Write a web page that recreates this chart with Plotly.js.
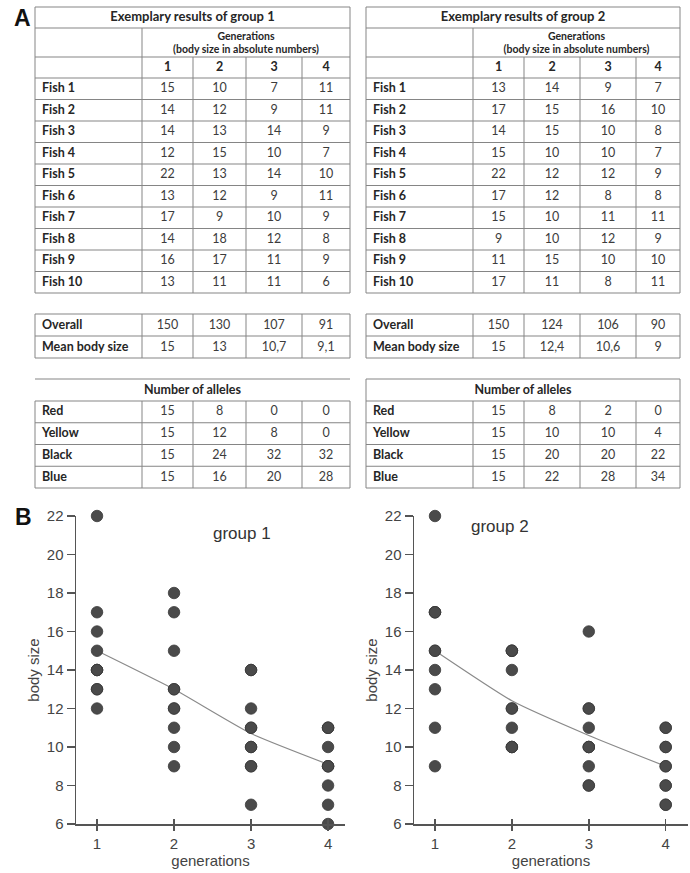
<!DOCTYPE html>
<html>
<head>
<meta charset="utf-8">
<script src="https://cdn.plot.ly/plotly-3.0.1.min.js"></script>
<style>html,body{margin:0;padding:0;background:#fff;}#chart{width:690px;height:873px;}</style>
</head>
<body>
<div id="chart"></div>
<script>
// ---------------- DATA ----------------
const generations = [1, 2, 3, 4];
const genHeaders = ['1', '2', '3', '4'];
const fishLabels = ['Fish 1', 'Fish 2', 'Fish 3', 'Fish 4', 'Fish 5', 'Fish 6', 'Fish 7', 'Fish 8', 'Fish 9', 'Fish 10'];

// group 1 body sizes per generation (one value per fish)
const g1Gen1 = [15, 14, 14, 12, 22, 13, 17, 14, 16, 13];
const g1Gen2 = [10, 12, 13, 15, 13, 12, 9, 18, 17, 11];
const g1Gen3 = [7, 9, 14, 10, 14, 9, 10, 12, 11, 11];
const g1Gen4 = [11, 11, 9, 7, 10, 11, 9, 8, 9, 6];
const g1Overall = ['150', '130', '107', '91'];
const g1Mean = ['15', '13', '10,7', '9,1'];

// group 2 body sizes per generation
const g2Gen1 = [13, 17, 14, 15, 22, 17, 15, 9, 11, 17];
const g2Gen2 = [14, 15, 15, 10, 12, 12, 10, 10, 15, 11];
const g2Gen3 = [9, 16, 10, 10, 12, 8, 11, 12, 10, 8];
const g2Gen4 = [7, 10, 8, 7, 9, 8, 11, 9, 10, 11];
const g2Overall = ['150', '124', '106', '90'];
const g2Mean = ['15', '12,4', '10,6', '9'];

// number of alleles
const alleleLabels = ['Red', 'Yellow', 'Black', 'Blue'];
const g1Red = [15, 8, 0, 0];
const g1Yellow = [15, 12, 8, 0];
const g1Black = [15, 24, 32, 32];
const g1Blue = [15, 16, 20, 28];
const g2Red = [15, 8, 2, 0];
const g2Yellow = [15, 10, 10, 4];
const g2Black = [15, 20, 20, 22];
const g2Blue = [15, 22, 28, 34];

const groupTitles = ['Exemplary results of group 1', 'Exemplary results of group 2'];
const genTitle = 'Generations<br>(body size in absolute numbers)';
const overallLabel = 'Overall';
const meanLabel = 'Mean body size';
const allelesTitle = 'Number of alleles';
const plotTitles = ['group 1', 'group 2'];

// ---------------- LAYOUT HELPERS ----------------
const W = 690, H = 873;
const fx = p => p / W;
const fy = p => 1 - p / H;
const bold = s => '<b>' + s + '</b>';
const LINE = '#858585';
const TXT = '#262626';
const NUM = '#3c3c3c';
const TFONT = 'Lato, "Open Sans", sans-serif';
const FS = 12.5;
const PADL = 7;

// table geometry (pixel grid of the hidden table axes)
const ROW = { titleTop: 7, genTop: 28, headTop: 57, fishTop: 78, fishH: 21.5,
  overallTop: 314, overallH: 22, allTitleTop: 379, allTop: 401, allH: 21.75 };

const groups = [
  { gens: [g1Gen1, g1Gen2, g1Gen3, g1Gen4], overall: g1Overall, mean: g1Mean,
    alleles: [g1Red, g1Yellow, g1Black, g1Blue], edges: [35, 142, 193, 246, 302, 350], allelesBox: false },
  { gens: [g2Gen1, g2Gen2, g2Gen3, g2Gen4], overall: g2Overall, mean: g2Mean,
    alleles: [g2Red, g2Yellow, g2Black, g2Blue], edges: [366, 473, 524, 580, 636, 680], allelesBox: true }
];

const traces = [];
const shapes = [];
const TX = 'x5', TY = 'y5';
function hline(x0, x1, y) { shapes.push({ type: 'line', xref: TX, yref: TY, x0: x0, x1: x1, y0: y, y1: y, line: { color: LINE, width: 1 } }); }
function vline(x, y0, y1) { shapes.push({ type: 'line', xref: TX, yref: TY, x0: x, x1: x, y0: y0, y1: y1, line: { color: LINE, width: 1 } }); }
function textTrace(xs, ys, texts, pos, size, color) {
  traces.push({ type: 'scatter', mode: 'text', x: xs, y: ys, text: texts, xaxis: TX, yaxis: TY,
    textposition: pos, cliponaxis: false, hoverinfo: 'skip',
    textfont: { family: TFONT, size: size, color: color } });
}

groups.forEach((g, gi) => {
  const e = g.edges, L = e[0], R = e[5];
  const centers = generations.map((_, k) => (e[k + 1] + e[k + 2]) / 2);
  const fishBottom = ROW.fishTop + fishLabels.length * ROW.fishH;
  const ovBottom = ROW.overallTop + 2 * ROW.overallH;
  const allBottom = ROW.allTop + alleleLabels.length * ROW.allH;

  // ---- grid: main table
  [ROW.titleTop, ROW.genTop, ROW.headTop].forEach(y => hline(L, R, y));
  fishLabels.forEach((_, i) => hline(L, R, ROW.fishTop + i * ROW.fishH));
  hline(L, R, fishBottom);
  vline(L, ROW.titleTop, fishBottom); vline(R, ROW.titleTop, fishBottom);
  vline(e[1], ROW.genTop, fishBottom);
  [e[2], e[3], e[4]].forEach(x => vline(x, ROW.headTop, fishBottom));
  // ---- grid: overall/mean
  [0, 1, 2].forEach(i => hline(L, R, ROW.overallTop + i * ROW.overallH));
  e.forEach(x => vline(x, ROW.overallTop, ovBottom));
  // ---- grid: alleles
  hline(L, R, ROW.allTitleTop);
  if (g.allelesBox) { vline(L, ROW.allTitleTop, ROW.allTop); vline(R, ROW.allTitleTop, ROW.allTop); }
  alleleLabels.forEach((_, i) => hline(L, R, ROW.allTop + i * ROW.allH));
  hline(L, R, allBottom);
  e.forEach(x => vline(x, ROW.allTop, allBottom));

  // ---- texts
  textTrace([(L + R) / 2], [(ROW.titleTop + ROW.genTop) / 2 + 0.5], [bold(groupTitles[gi])], 'middle center', 13, TXT);
  textTrace([(e[1] + R) / 2], [(ROW.genTop + ROW.headTop) / 2 + 1.5], [bold(genTitle)], 'middle center', 10.5, TXT);
  textTrace(centers, centers.map(() => (ROW.headTop + ROW.fishTop) / 2 + 0.5), genHeaders.map(bold), 'middle center', FS, TXT);

  const fishY = fishLabels.map((_, i) => ROW.fishTop + (i + 0.5) * ROW.fishH + 0.5);
  textTrace(fishY.map(() => L + PADL), fishY, fishLabels.map(bold), 'middle right', FS, TXT);
  const vx = [], vy = [], vt = [];
  g.gens.forEach((vals, k) => vals.forEach((v, i) => { vx.push(centers[k]); vy.push(fishY[i]); vt.push(String(v)); }));
  // overall and mean rows
  const ovY = [0, 1].map(i => ROW.overallTop + (i + 0.5) * ROW.overallH + 0.5);
  g.overall.forEach((v, k) => { vx.push(centers[k]); vy.push(ovY[0]); vt.push(v); });
  g.mean.forEach((v, k) => { vx.push(centers[k]); vy.push(ovY[1]); vt.push(v); });
  textTrace([L + PADL, L + PADL], ovY, [bold(overallLabel), bold(meanLabel)], 'middle right', FS, TXT);
  // alleles
  textTrace([(L + R) / 2], [(ROW.allTitleTop + ROW.allTop) / 2 + 0.5], [bold(allelesTitle)], 'middle center', FS, TXT);
  const alY = alleleLabels.map((_, i) => ROW.allTop + (i + 0.5) * ROW.allH + 0.5);
  textTrace(alY.map(() => L + PADL), alY, alleleLabels.map(bold), 'middle right', FS, TXT);
  g.alleles.forEach((row, i) => row.forEach((v, k) => { vx.push(centers[k]); vy.push(alY[i]); vt.push(String(v)); }));
  textTrace(vx, vy, vt, 'middle center', FS, NUM);

  // ---- scatter plots
  const xs = [], ys = [];
  g.gens.forEach((vals, k) => vals.forEach(v => { xs.push(generations[k]); ys.push(v); }));
  const ax = gi === 0 ? '' : '2';
  traces.push({
    type: 'scatter', mode: 'lines', x: generations, y: g.mean.map(s => parseFloat(s.replace(',', '.'))),
    xaxis: 'x' + ax, yaxis: 'y' + ax, line: { color: '#8a8a8a', width: 1.2, shape: 'spline', smoothing: 0.5 },
    hoverinfo: 'skip', cliponaxis: false
  });
  traces.push({
    type: 'scatter', mode: 'markers', x: xs, y: ys, xaxis: 'x' + ax, yaxis: 'y' + ax,
    marker: { size: 11.5, color: '#4a4a4a', line: { color: '#3a3a3a', width: 0.8 } },
    cliponaxis: false
  });
});
// helper traces for the crossing x ticks
traces.push({ type: 'scatter', x: [], y: [], xaxis: 'x3', yaxis: 'y' });
traces.push({ type: 'scatter', x: [], y: [], xaxis: 'x4', yaxis: 'y2' });

const AX = '#555555';
const AFONT = 'Liberation Sans, Arial, sans-serif';
function xAxis(d0, d1, r1, anchor) {
  return {
    domain: [fx(d0), fx(d1)], range: [0.727, r1], anchor: anchor,
    showline: true, linecolor: AX, linewidth: 1.5, ticks: 'outside', ticklen: 5, tickwidth: 1.5, tickcolor: AX,
    tickvals: generations, ticktext: genHeaders, showgrid: false, zeroline: false,
    tickfont: { family: AFONT, size: 15, color: '#444' },
    title: { text: 'generations', font: { family: AFONT, size: 15, color: '#444' }, standoff: 2 },
    fixedrange: true
  };
}
function xOver(d0, d1, r1, over, anchor) {
  return {
    domain: [fx(d0), fx(d1)], range: [0.727, r1], overlaying: over, anchor: anchor,
    showline: false, ticks: 'inside', ticklen: 5, tickwidth: 1.5, tickcolor: AX,
    tickvals: generations, showticklabels: false, showgrid: false, zeroline: false
  };
}
function yAxis(anchor) {
  return {
    domain: [fy(824), fy(516)], range: [6, 22], anchor: anchor, dtick: 2, tick0: 6,
    showline: true, linecolor: AX, linewidth: 1.5, ticks: 'outside', ticklen: 8, tickwidth: 1.5, tickcolor: AX,
    showgrid: false, zeroline: false,
    tickfont: { family: AFONT, size: 15, color: '#444' },
    title: { text: 'body size', font: { family: AFONT, size: 15, color: '#444' }, standoff: 3 },
    fixedrange: true
  };
}

const layout = {
  width: W, height: H, margin: { l: 0, r: 0, t: 0, b: 0 },
  paper_bgcolor: 'white', plot_bgcolor: 'rgba(0,0,0,0)', showlegend: false,
  font: { family: AFONT, color: '#333' },
  xaxis: xAxis(76, 345, 4.22, 'y'),
  yaxis: yAxis('x'),
  xaxis2: xAxis(414, 688, 4.29, 'y2'),
  yaxis2: yAxis('x2'),
  xaxis3: xOver(76, 345, 4.22, 'x', 'y'),
  xaxis4: xOver(414, 688, 4.29, 'x2', 'y2'),
  // hidden pixel-grid axes for the tables
  xaxis5: { domain: [0, 1], range: [0, W], visible: false, anchor: 'y5', fixedrange: true },
  yaxis5: { domain: [fy(500), 1], range: [500, 0], visible: false, anchor: 'x5', fixedrange: true },
  shapes: shapes,
  annotations: [
    { text: '<b>A</b>', xref: 'paper', yref: 'paper', x: fx(22), y: fy(18), xanchor: 'center', yanchor: 'middle', showarrow: false,
      font: { family: AFONT, size: 23, color: '#111' } },
    { text: '<b>B</b>', xref: 'paper', yref: 'paper', x: fx(23), y: fy(517), xanchor: 'center', yanchor: 'middle', showarrow: false,
      font: { family: AFONT, size: 23, color: '#111' } },
    { text: plotTitles[0], xref: 'paper', yref: 'paper', x: fx(211), y: fy(533), showarrow: false,
      font: { family: AFONT, size: 17, color: '#333' } },
    { text: plotTitles[1], xref: 'paper', yref: 'paper', x: fx(531), y: fy(526), showarrow: false,
      font: { family: AFONT, size: 17, color: '#333' } }
  ]
};

Plotly.newPlot('chart', traces, layout, { staticPlot: true, displayModeBar: false });
</script>
</body>
</html>
